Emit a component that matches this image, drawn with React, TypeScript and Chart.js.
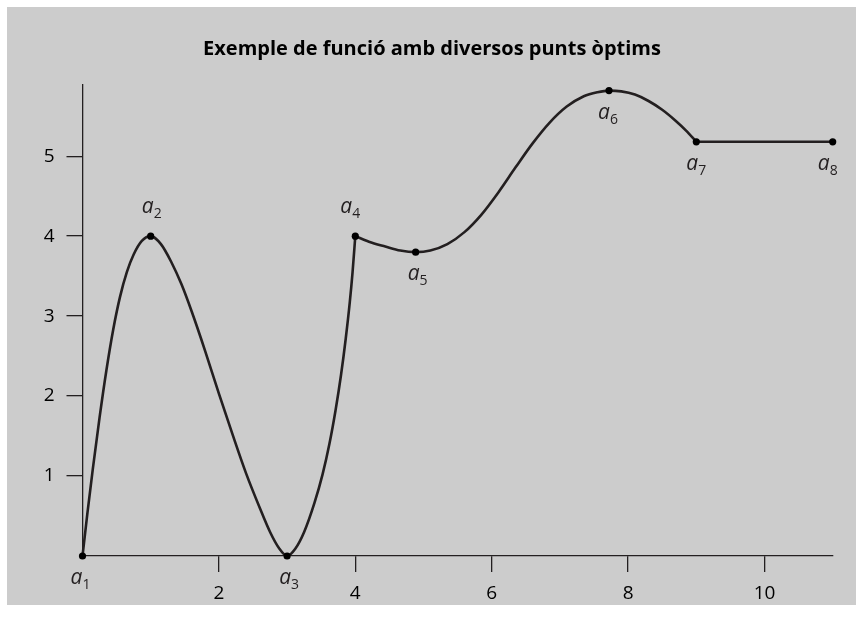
import React, { useEffect, useRef } from "react";
import { Chart, registerables } from "chart.js";

Chart.register(...registerables);

// ---- data ----
const titleText = "Exemple de funció amb diversos punts òptims";

const xTickValues = [2, 4, 6, 8, 10];
const yTickValues = [1, 2, 3, 4, 5];

// optimal points a1..a8
const keySubs = ["1", "2", "3", "4", "5", "6", "7", "8"];
const keyX = [0, 1, 3, 4, 4.885, 7.72, 9, 11];
const keyY = [0, 4, 0, 4, 3.8, 5.82, 5.18, 5.18];
const keySide = ["below", "above", "below", "above", "below", "below", "below", "below"];

// curve piece a1 -> a4
const seg1X = [
  0, 0.07, 0.15, 0.25, 0.35, 0.45, 0.55, 0.65, 0.75, 0.87, 1,
  1.15, 1.3, 1.45, 1.6, 1.8, 2.0, 2.2, 2.4, 2.6, 2.75, 2.88, 3,
  3.12, 3.25, 3.4, 3.52, 3.62, 3.71, 3.79, 3.86, 3.92, 3.96, 4,
];
const seg1Y = [
  0, 0.52, 1.08, 1.73, 2.32, 2.83, 3.24, 3.55, 3.77, 3.94, 4,
  3.9, 3.68, 3.4, 3.06, 2.56, 2.03, 1.52, 1.03, 0.6, 0.3, 0.1, 0,
  0.09, 0.3, 0.66, 1.02, 1.4, 1.82, 2.26, 2.72, 3.18, 3.55, 4,
];

// curve piece a4 -> a7
const seg2X = [4, 4.2, 4.44, 4.66, 4.885, 5.1, 5.35, 5.6, 5.85, 6.1, 6.35, 6.6, 6.85, 7.1, 7.35, 7.55, 7.72, 7.9, 8.1, 8.3, 8.5, 8.7, 8.85, 9];
const seg2Y = [4, 3.93, 3.87, 3.82, 3.8, 3.82, 3.9, 4.05, 4.27, 4.55, 4.86, 5.16, 5.42, 5.62, 5.75, 5.8, 5.82, 5.81, 5.77, 5.69, 5.58, 5.44, 5.32, 5.18];

// flat piece a7 -> a8
const seg3X = [9, 11];
const seg3Y = [5.18, 5.18];

const INK = "#231f20";
const BG = "#cccccc";

const toXY = (xs: number[], ys: number[]) => xs.map((x, i) => ({ x, y: ys[i] }));

export default function App() {
  const ref = useRef<HTMLCanvasElement | null>(null);

  useEffect(() => {
    if (!ref.current) return;

    const bgPlugin = {
      id: "bgPanel",
      beforeDraw(chart: any) {
        const c = chart.ctx;
        c.save();
        c.fillStyle = "#ffffff";
        c.fillRect(0, 0, chart.width, chart.height);
        c.fillStyle = BG;
        c.fillRect(7, 7, 849, 598);
        c.restore();
      },
    };

    const nudge = [-2, 1, 2, -5, 2, -1, 0, -5];

    const labelPlugin = {
      id: "pointNames",
      afterDatasetsDraw(chart: any) {
        const ctx = chart.ctx;
        const xs = chart.scales.x;
        const ys = chart.scales.y;
        ctx.save();
        ctx.fillStyle = INK;
        ctx.textBaseline = "alphabetic";
        ctx.textAlign = "left";
        keyX.forEach((v, i) => {
          const px = xs.getPixelForValue(v);
          const py = ys.getPixelForValue(keyY[i]);
          ctx.font = 'italic 21px "Open Sans"';
          const wa = ctx.measureText("a").width;
          ctx.font = '14px "Open Sans"';
          const ws = ctx.measureText(keySubs[i]).width;
          const total = wa + ws;
          const left = px - total / 2 + nudge[i];
          const base = keySide[i] === "above" ? py - 23 : py + 28;
          ctx.font = 'italic 21px "Open Sans"';
          ctx.fillText("a", left, base);
          ctx.font = '14px "Open Sans"';
          ctx.fillText(keySubs[i], left + wa, base + 5);
        });
        ctx.restore();
      },
    };

    const lineDs = (xs: number[], ys: number[]) => ({
      data: toXY(xs, ys),
      borderColor: INK,
      borderWidth: 2.6,
      pointRadius: 0,
      showLine: true,
      fill: false,
      cubicInterpolationMode: "monotone" as const,
      clip: false as any,
    });

    const chart = new Chart(ref.current, {
      type: "scatter",
      data: {
        datasets: [
          {
            data: toXY(keyX, keyY),
            pointRadius: 3.6,
            pointBackgroundColor: "#000000",
            pointBorderWidth: 0,
            borderColor: "#000000",
            showLine: false,
            clip: false as any,
          },
          lineDs(seg1X, seg1Y),
          lineDs(seg2X, seg2Y),
          lineDs(seg3X, seg3Y),
        ],
      },
      options: {
        animation: false,
        responsive: false,
        maintainAspectRatio: false,
        events: [],
        layout: { padding: { left: 31.3, right: 31.3, top: 0, bottom: 0 } },
        plugins: {
          legend: { display: false },
          tooltip: { enabled: false },
          title: {
            display: true,
            text: titleText,
            color: "#000000",
            font: { family: '"Open Sans"', size: 20, weight: "bold" },
            padding: { top: 37, bottom: 24 },
          },
        },
        scales: {
          x: {
            type: "linear",
            min: 0,
            max: 11,
            afterBuildTicks: (s: any) => {
              s.ticks = xTickValues.map((v) => ({ value: v }));
            },
            afterFit: (s: any) => {
              s.height = 63;
            },
            grid: {
              drawOnChartArea: false,
              drawTicks: true,
              tickLength: 16,
              color: INK,
              lineWidth: 1.3,
            },
            border: { display: true, color: INK, width: 1.3 },
            ticks: {
              color: "#000000",
              padding: 10,
              maxRotation: 0,
              font: { family: '"Open Sans"', size: 19 },
            },
          },
          y: {
            type: "linear",
            min: 0,
            max: 5.89,
            afterBuildTicks: (s: any) => {
              s.ticks = yTickValues.map((v) => ({ value: v }));
            },
            afterFit: (s: any) => {
              s.width = 82.5 - 31.3;
            },
            grid: {
              drawOnChartArea: false,
              drawTicks: true,
              tickLength: 16,
              color: INK,
              lineWidth: 1.3,
            },
            border: { display: true, color: INK, width: 1.3 },
            ticks: {
              color: "#000000",
              padding: 12,
              font: { family: '"Open Sans"', size: 19 },
            },
          },
        },
      },
      plugins: [bgPlugin, labelPlugin],
    });

    return () => chart.destroy();
  }, []);

  return (
    <div style={{ position: "fixed", left: 0, top: 0, width: 864, height: 619 }}>
      <canvas ref={ref} width={864} height={619} style={{ display: "block", width: 864, height: 619 }} />
    </div>
  );
}
